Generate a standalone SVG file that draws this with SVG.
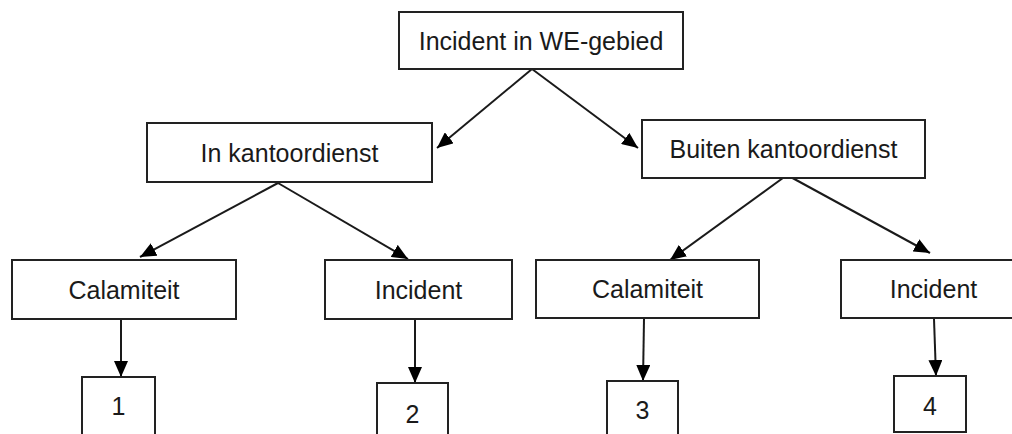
<svg xmlns="http://www.w3.org/2000/svg" width="1012" height="434" viewBox="0 0 1012 434">
<style>
.box{fill:#fff;stroke:#222;stroke-width:2}
.lbl{font-family:"Liberation Sans",Arial,sans-serif;font-size:25px;fill:#1a1a1a;text-anchor:middle}
.con{stroke:#1a1a1a;stroke-width:2;fill:none;marker-end:url(#ah)}
</style>
<defs>
<marker id="ah" markerUnits="userSpaceOnUse" markerWidth="16" markerHeight="14" viewBox="0 0 16 14" refX="16" refY="7" orient="auto">
<path d="M0,0 L16,7 L0,14 Z" fill="#000"/>
</marker>
</defs>
<rect width="1012" height="434" fill="#fff"/>
<g id="connectors">
<line class="con" x1="532" y1="69" x2="437" y2="148"/>
<line class="con" x1="532" y1="69" x2="638" y2="148"/>
<line class="con" x1="278" y1="183" x2="140" y2="257"/>
<line class="con" x1="278" y1="183" x2="408" y2="259"/>
<line class="con" x1="787" y1="175" x2="670" y2="260"/>
<line class="con" x1="787" y1="175" x2="930" y2="253"/>
<line class="con" x1="121" y1="320" x2="121" y2="377"/>
<line class="con" x1="415" y1="320" x2="415" y2="383"/>
<line class="con" x1="644" y1="319" x2="643" y2="381"/>
<line class="con" x1="934" y1="319" x2="936" y2="376"/>
</g>
<g id="n-root"><rect class="box" x="399" y="12" width="284" height="57"/><text class="lbl" x="541" y="49.5">Incident in WE-gebied</text></g>
<g id="n-in"><rect class="box" x="147" y="123" width="285" height="59"/><text class="lbl" x="289.5" y="161.5">In kantoordienst</text></g>
<g id="n-buiten"><rect class="box" x="642" y="120" width="283" height="58"/><text class="lbl" x="783.5" y="158">Buiten kantoordienst</text></g>
<g id="n-cal1"><rect class="box" x="12" y="260" width="224" height="59"/><text class="lbl" x="124" y="298.5">Calamiteit</text></g>
<g id="n-inc1"><rect class="box" x="325" y="260" width="187" height="59"/><text class="lbl" x="418.5" y="298.5">Incident</text></g>
<g id="n-cal2"><rect class="box" x="536" y="260" width="223" height="58"/><text class="lbl" x="647.5" y="298">Calamiteit</text></g>
<g id="n-inc2"><rect class="box" x="841" y="260" width="190" height="58"/><text class="lbl" x="933.5" y="298">Incident</text></g>
<g id="n-1"><rect class="box" x="82" y="377" width="73" height="64"/><text class="lbl" x="118.5" y="415">1</text></g>
<g id="n-2"><rect class="box" x="377" y="383" width="71" height="60"/><text class="lbl" x="412.5" y="423">2</text></g>
<g id="n-3"><rect class="box" x="607" y="381" width="71" height="60"/><text class="lbl" x="642.5" y="419">3</text></g>
<g id="n-4"><rect class="box" x="894" y="376" width="72" height="56"/><text class="lbl" x="930" y="415">4</text></g>
</svg>
